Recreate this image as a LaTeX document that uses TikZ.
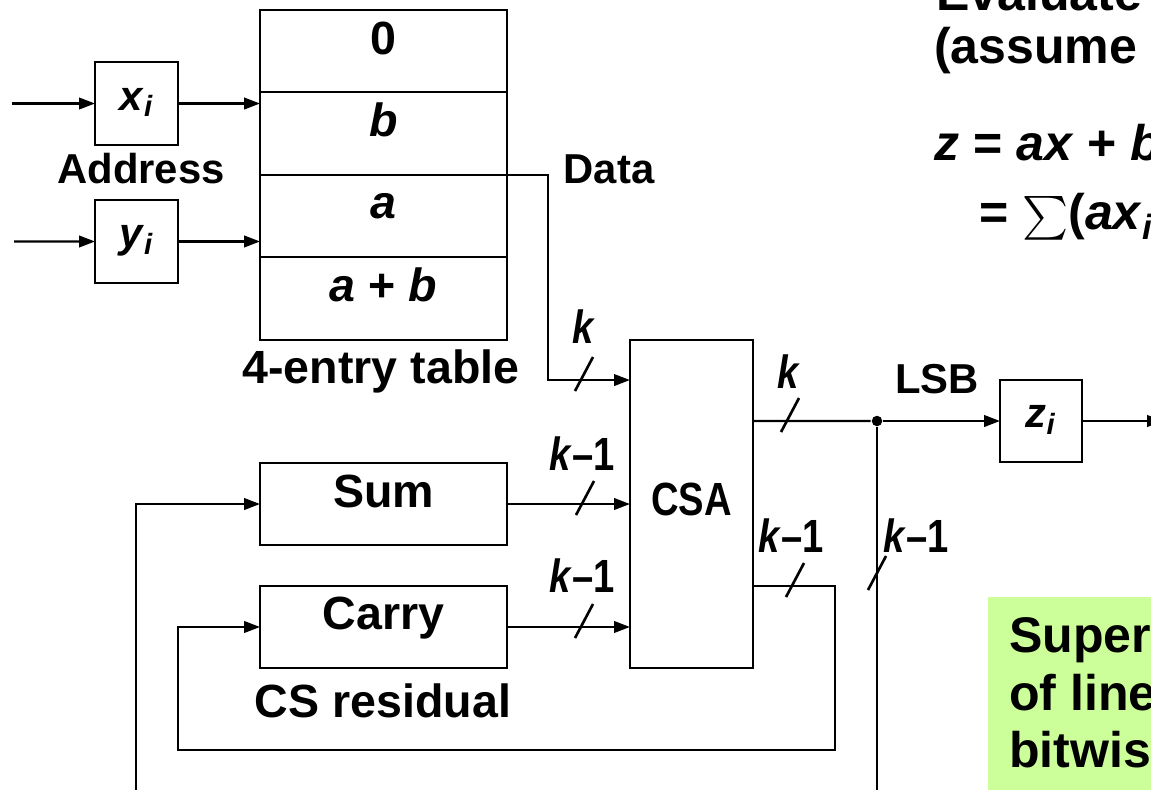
\documentclass[tikz,border=0pt]{standalone}
\usepackage{exscale}
\usepackage{fontspec}
\setmainfont{Liberation Sans}
\newfontfamily\narrowsans{Liberation Sans}[FakeStretch=0.82, Ligatures=TeX]
\usepackage{tikz}
\usetikzlibrary{arrows.meta,positioning,calc}
\definecolor{notegreen}{RGB}{204,255,153}

\begin{document}
\begin{tikzpicture}[
        x=0.02cm, y=-0.02cm,
        line width=1.3pt,
        lbl/.style={font=\fontsize{23.8}{28}\selectfont\bfseries, inner sep=0pt},
        lblb/.style={font=\fontsize{26.5}{31}\selectfont\bfseries, inner sep=0pt},
        nar/.style={font=\fontsize{26.5}{31}\selectfont\narrowsans\bfseries, inner sep=0pt},
        big/.style={font=\fontsize{28.5}{33}\selectfont\bfseries, inner sep=0pt, anchor=base west},
        block/.style={rectangle, draw, lblb, outer sep=0pt, minimum width=4.94cm, minimum height=1.64cm, text height=0.6cm, text depth=0.48cm},
        cell/.style={block, minimum height=1.65cm},
        reg/.style={block, lbl, minimum width=1.66cm, minimum height=1.66cm, text depth=0.34cm},
        arrow/.style={-{Triangle[length=9pt,width=6.5pt]}},
        dot/.style={circle, fill, inner sep=0pt, minimum size=0.21cm},
        bus/.pic={\draw[line width=1.5pt] (-9,11) -- (9,-23);}
    ]
        \useasboundingbox (0,0) rectangle (1151,789);
        \clip (0,0) rectangle (1151,789);

        % lookup table and address registers
        \node[cell] (tab0) at (383.5,51) {0};
        \node[cell, below=0cm of tab0] (tab1) {\textit{b}};
        \node[cell, below=0cm of tab1] (tab2) {\textit{a}};
        \node[cell, below=0cm of tab2] (tab3) {\textit{a} + \textit{b}};
        \node[lblb, anchor=base] (tablbl) at (381,383) {4-entry table};
        \node[reg] (xi) at (136.5,103.5) {\textit{x}\textsubscript{\textit{i}}};
        \node[reg, below=1.1cm of xi] (yi) {\textit{y}\textsubscript{\textit{i}}};
        \node[lbl, anchor=base] (addr) at (141,183) {Address};
        \node[lbl, anchor=base] (datalbl) at (609,183) {Data};
        \coordinate (xin) at (12,103.5);
        \coordinate (yin) at (14,241.5);
        \draw[arrow] (xin) -- (xi);
        \draw[arrow] (yin) -- (yi);
        \draw[arrow] (xi) -- (xi -| tab0.west);
        \draw[arrow] (yi) -- (yi -| tab0.west);

        % CS residual and CSA
        \node[block] (sum) at (383.5,504) {Sum};
        \node[block, below=0.82cm of sum] (carry) {Carry};
        \node[lblb, anchor=base] (csres) at (383,717) {CS residual};
        \node[block, nar, minimum width=2.46cm, minimum height=6.56cm, text depth=0.16cm, right=2.46cm of sum] (csa) {CSA};
        \coordinate (cin) at ($(csa.north west)+(0,40)$);
        \draw[arrow] (tab2.north east) -- ++(41,0) |- (cin);
        \draw[arrow] (sum.east) -- (sum -| csa.west);
        \draw[arrow] (carry.east) -- (carry -| csa.west);
        \pic at (584,380) {bus};
        \pic at (585,504) {bus};
        \pic at (584,627) {bus};
        \node[nar, anchor=base] (kdata) at (584,343) {\textit{k}};
        \node[nar, anchor=base] (ksum) at (582,470) {\textit{k}--1};
        \node[nar, anchor=base] (kcar) at (582,592) {\textit{k}--1};

        % outputs and feedback
        \coordinate (cout) at ($(csa.north east)+(0,81)$);
        \coordinate (cout2) at ($(csa.south east)+(0,-82)$);
        \node[dot] (split) at (877,421) {};
        \node[reg, minimum width=1.64cm, minimum height=1.64cm] (zi) at (1041,421) {\textit{z}\textsubscript{\textit{i}}};
        \node[lbl, anchor=base] (lsb) at (937,393) {LSB};
        \coordinate (zout) at (1163,421);
        \coordinate (down) at (877,800);
        \coordinate (sumfb) at (136,800);
        \draw (cout) -- (split);
        \draw[arrow] (split) -- (zi);
        \draw[arrow] (zi) -- (zout);
        \draw (split) -- (down);
        \draw[arrow] (cout2) -- ++(82,0) |- (178,750) |- (carry.west);
        \draw[arrow] (sumfb) |- (sum.west);
        \pic at (790,421) {bus};
        \pic at (795,586) {bus};
        \pic at (877,579) {bus};
        \node[nar, anchor=base] (kout) at (789,388) {\textit{k}};
        \node[nar, anchor=base] (kfb) at (791,552) {\textit{k}--1};
        \node[nar, anchor=base] (kdown) at (916,552) {\textit{k}--1};

        % slide text on the right
        \node[big] (eval) at (935,10) {Evaluate};
        \node[big] (assume) at (933,63) {(assume};
        \node[big] (zeq) at (933,160) {\textit{z} = \textit{ax} + \textit{b}};
        \node[big] (zsum) at (978,229) {= $\sum$(\textit{ax}\textsubscript{\textit{i}}};
        \fill[notegreen] (988,597) rectangle (1170,800);
        \node[big] (note1) at (1008,652) {Super};
        \node[big] (note2) at (1008,710) {of line};
        \node[big] (note3) at (1008,767) {bitwis};
    \end{tikzpicture}
\end{document}
